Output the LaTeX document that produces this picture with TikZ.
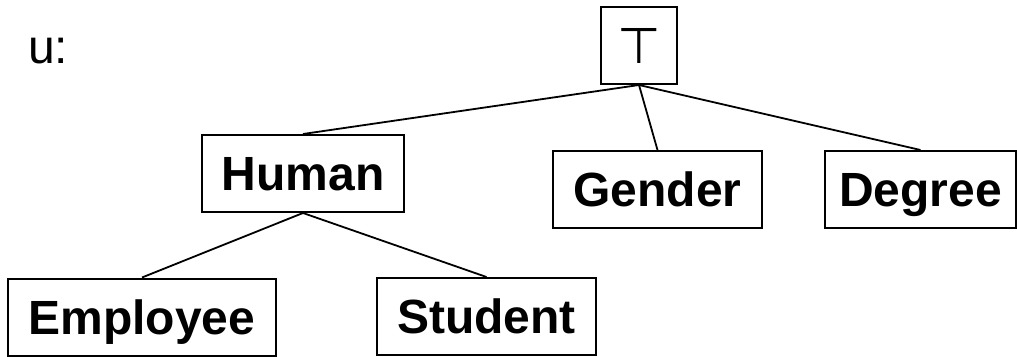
\documentclass[tikz,border=0pt]{standalone}
\usepackage{fontspec}
\setmainfont{Liberation Sans}
\newfontfamily\symfont{DejaVu Sans}
\begin{document}
\begin{tikzpicture}[x=1pt,y=-1pt,
  box/.style={draw=black,line width=2pt,rectangle,inner sep=0pt,
    minimum height=77pt,text height=34.4pt,text depth=0pt,
    font=\fontsize{48}{48}\selectfont\bfseries},
  link/.style={draw=black,line width=1.8pt}]
\useasboundingbox (0,0) rectangle (1017,356);
\node[box,minimum width=76pt,font=\fontsize{50}{50}\selectfont\symfont,text height=35pt] (top) at (639,45.5) {⊤};
\node[box,minimum width=202pt] (human) at (303,173.5) {Human};
\node[box,minimum width=209pt] (gender) at (657.5,189.5) {Gender};
\node[box,minimum width=191pt] (degree) at (920.5,189.5) {Degree};
\node[box,minimum width=268pt] (employee) at (142,317) {Employee};
\node[box,minimum width=219pt] (student) at (486.5,316.5) {Student};
\node[anchor=base west,inner sep=0pt,font=\fontsize{48}{48}\selectfont] (u) at (28,63) {u:};
\draw[link] (top.south) -- (human.north);
\draw[link] (top.south) -- (gender.north);
\draw[link] (top.south) -- (degree.north);
\draw[link] (human.south) -- (employee.north);
\draw[link] (human.south) -- (student.north);
\end{tikzpicture}
\end{document}
